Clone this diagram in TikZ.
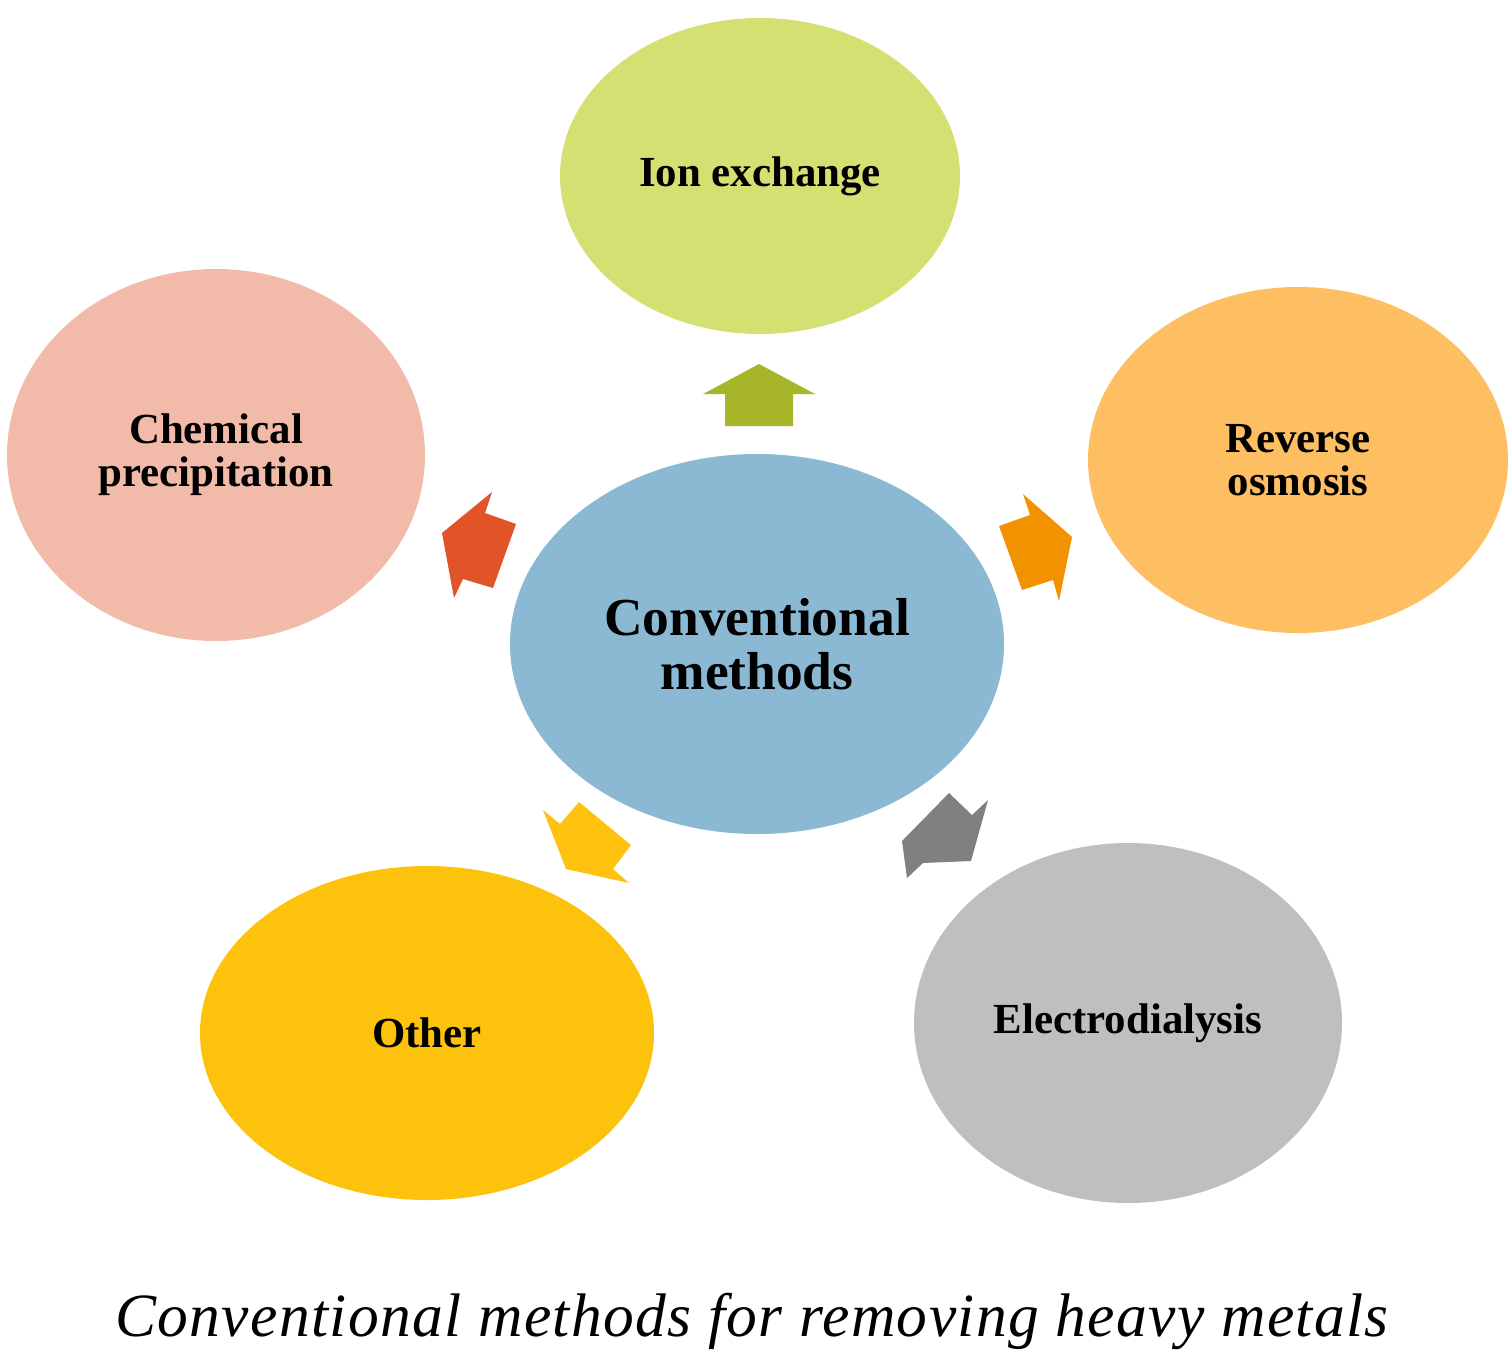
\documentclass[tikz,border=0pt]{standalone}
\usepackage{fontspec}
\setmainfont{Liberation Serif}
\usepackage{tikz}
\usetikzlibrary{shapes.geometric}
\definecolor{convblue}{HTML}{8BB9D4}
\definecolor{ionfill}{HTML}{D4E172}
\definecolor{iontip}{HTML}{A6B628}
\definecolor{revfill}{HTML}{FEBF63}
\definecolor{revtip}{HTML}{F39200}
\definecolor{chemfill}{HTML}{F2BAA9}
\definecolor{chemtip}{HTML}{E05428}
\definecolor{othfill}{HTML}{FCC20C}
\definecolor{othtip}{HTML}{FFC20E}
\definecolor{elecfill}{HTML}{BFBFBF}
\definecolor{electip}{HTML}{808080}

\begin{document}
\begin{tikzpicture}[blob/.style={ellipse, inner sep=0pt, align=center,
      font=\fontsize{12.2}{12.3}\selectfont\bfseries}]
        \useasboundingbox (0,0) rectangle (15.08,13.67);

        \node[blob, fill=convblue, minimum width=4.94cm, minimum height=3.80cm,
              font=\fontsize{15.2}{15.4}\selectfont\bfseries] (conv) at (7.57, 7.23) {Conventional\\methods};
        \node[blob, fill=ionfill, minimum width=4.00cm, minimum height=3.16cm] (ion) at (7.60, 11.91) {Ion exchange};
        \node[blob, fill=revfill, minimum width=4.20cm, minimum height=3.46cm] (rev) at (12.98, 9.07) {Reverse\\osmosis};
        \node[blob, fill=chemfill, minimum width=4.18cm, minimum height=3.72cm] (chem) at (2.16, 9.12) {Chemical\\precipitation};
        \node[blob, fill=othfill, minimum width=4.54cm, minimum height=3.34cm] (oth) at (4.27, 3.34) {Other};
        \node[blob, fill=elecfill, minimum width=4.28cm, minimum height=3.60cm] (elec) at (11.28, 3.44) {Electrodialysis};

        % block arrows
        \fill[iontip] (7.59,10.03) -- (8.15,9.73) -- (7.93,9.73) -- (7.93,9.41)
          -- (7.25,9.41) -- (7.25,9.73) -- (7.03,9.73) -- cycle;
        \fill[chemtip] (4.92,8.75) -- (4.85,8.54) -- (5.16,8.43) -- (4.93,7.79)
          -- (4.63,7.88) -- (4.54,7.69) -- (4.42,8.34) -- cycle;
        \fill[revtip] (10.23,8.73) -- (10.30,8.52) -- (9.99,8.41) -- (10.22,7.77)
          -- (10.53,7.87) -- (10.59,7.66) -- (10.72,8.30) -- cycle;
        \fill[othtip] (5.43,5.57) -- (5.60,5.43) -- (5.79,5.65) -- (6.31,5.22)
          -- (6.13,4.98) -- (6.29,4.84) -- (5.66,4.98) -- cycle;
        \fill[electip] (9.49,5.74) -- (9.72,5.52) -- (9.88,5.67) -- (9.71,5.06)
          -- (9.23,5.04) -- (9.07,4.89) -- (9.02,5.26) -- cycle;

        \node[font=\fontsize{17.5}{17.5}\selectfont\itshape\addfontfeature{LetterSpace=2.2}] (caption) at (7.52, 0.46)
          {Conventional methods for removing heavy metals};
      \end{tikzpicture}
\end{document}
